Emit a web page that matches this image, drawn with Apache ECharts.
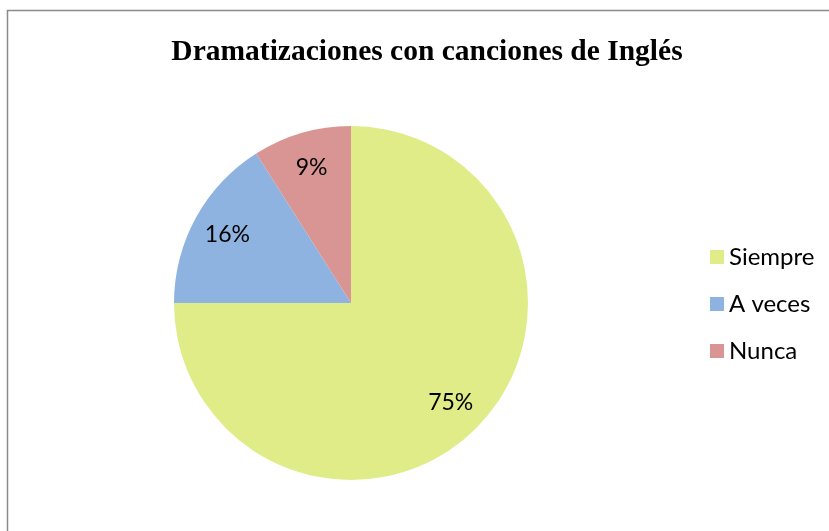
<!DOCTYPE html>
<html>
<head>
<meta charset="utf-8">
<script src="https://cdn.jsdelivr.net/npm/echarts@6/dist/echarts.min.js"></script>
<style>
  html, body { margin: 0; padding: 0; background: #fff; }
  #chart { width: 829px; height: 531px; }
</style>
</head>
<body>
<div id="chart"></div>
<script>
const titleText = 'Dramatizaciones con canciones de Inglés'
const categories = ['Siempre', 'A veces', 'Nunca']
const values = [75, 16, 9]
const colors = ['#dfec88', '#8eb3e0', '#d99594']

const pieData = categories.map((name, i) => ({ name, value: values[i] }))

const chart = echarts.init(document.getElementById('chart'))
const center = [351, 303]
const radius = 177

chart.setOption({
  animation: false,
  color: colors,
  title: {
    text: titleText,
    left: 422,
    top: 32,
    textAlign: 'center',
    textStyle: {
      fontFamily: 'Liberation Serif',
      fontWeight: 'bold',
      fontSize: 29.5,
      color: '#000'
    }
  },
  legend: {
    orient: 'vertical',
    left: 705,
    top: 240,
    itemWidth: 14,
    itemHeight: 14,
    itemGap: 23,
    icon: 'rect',
    data: categories,
    textStyle: { fontFamily: 'Lato', fontSize: 24, color: '#000', padding: [0, 0, 0, 0] }
  },
  graphic: [{
    type: 'rect',
    silent: true,
    shape: { x: 7.5, y: 10.5, width: 900, height: 600 },
    style: { fill: 'none', stroke: '#8a8a8a', lineWidth: 1.5 }
  }],
  series: [
    {
      type: 'pie',
      center,
      radius,
      startAngle: 90,
      clockwise: true,
      data: pieData,
      label: { show: false },
      labelLine: { show: false },
      itemStyle: { borderWidth: 0 },
      emphasis: { disabled: true }
    },
    {
      // transparent ring used only to place the percentage labels at ~0.78 r
      type: 'pie',
      center,
      radius: [radius * 0.56, radius],
      startAngle: 90,
      clockwise: true,
      silent: true,
      data: pieData,
      itemStyle: { color: 'rgba(0,0,0,0)', borderWidth: 0 },
      label: {
        show: true,
        position: 'inside',
        formatter: p => p.value + '%',
        fontFamily: 'Lato',
        fontSize: 23,
        color: '#000'
      },
      labelLine: { show: false },
      emphasis: { disabled: true }
    }
  ]
})
</script>
</body>
</html>
